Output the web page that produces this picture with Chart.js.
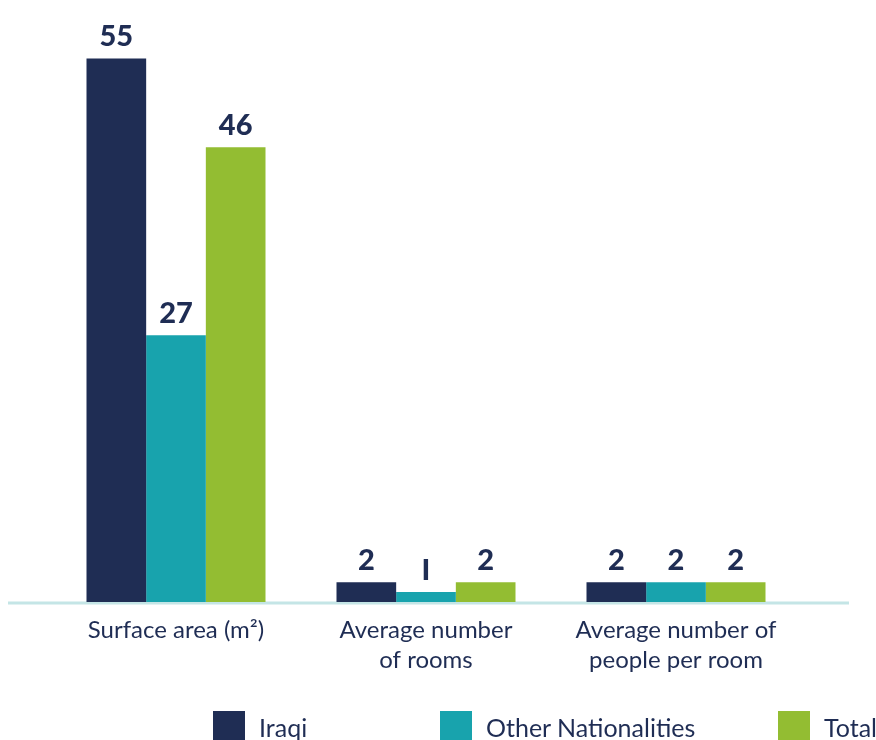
<!DOCTYPE html>
<html>
<head>
<meta charset="utf-8">
<script src="https://cdn.jsdelivr.net/npm/chart.js@4.4.1/dist/chart.umd.min.js"></script>
<style>
  html, body { margin: 0; padding: 0; background: #fff; }
  #wrap { position: relative; width: 876px; height: 740px; overflow: hidden; }
  #legend { position: absolute; left: 0; top: 711px; width: 876px; height: 32px;
            font-family: Lato, sans-serif; font-size: 25px; color: #1f2d54; }
  .item { position: absolute; top: 0; height: 32px; display: flex; align-items: center; white-space: nowrap; }
  .item span.box { display: inline-block; width: 32px; height: 32px; margin-right: 14px; }
</style>
</head>
<body>
<div id="wrap">
  <canvas id="chart" width="876" height="740"></canvas>
  <div id="legend"></div>
</div>
<script>
const categories = ['Surface area (m²)', ['Average number', 'of rooms'], ['Average number of', 'people per room']];
const seriesNames = ['Iraqi', 'Other Nationalities', 'Total'];
const iraqi = [55, 2, 2];
const otherNationalities = [27, 1, 2];
const total = [46, 2, 2];
const colors = ['#1f2d54', '#18a3ad', '#93bd32'];
const legendLeft = [213, 440, 778];

const navy = '#1f2d54';

// value labels above each bar
const valueLabels = {
    id: 'valueLabels',
    afterDatasetsDraw(chart) {
        const ctx = chart.ctx;
        ctx.save();
        ctx.font = '900 29px Lato, sans-serif';
        ctx.fillStyle = navy;
        ctx.textAlign = 'center';
        ctx.textBaseline = 'alphabetic';
        chart.data.datasets.forEach((ds, i) => {
            chart.getDatasetMeta(i).data.forEach((bar, j) => {
                const v = ds.data[j];
                ctx.fillText(v === 1 ? 'I' : String(v), bar.x, bar.y - 12);
            });
        });
        ctx.restore();
    }
};

// light baseline running wider than the bars
const baseLine = {
    id: 'baseLine',
    beforeDatasetsDraw(chart) {
        const ctx = chart.ctx;
        const y = chart.scales.y.getPixelForValue(0) + 1;
        ctx.save();
        ctx.strokeStyle = '#c4e5e6';
        ctx.lineWidth = 3;
        ctx.beginPath();
        ctx.moveTo(8, y);
        ctx.lineTo(849, y);
        ctx.stroke();
        ctx.restore();
    }
};

const series = [iraqi, otherNationalities, total];

new Chart(document.getElementById('chart').getContext('2d'), {
    type: 'bar',
    data: {
        labels: categories,
        datasets: series.map((d, i) => ({
            label: seriesNames[i],
            data: d,
            backgroundColor: colors[i],
            borderWidth: 0,
            barPercentage: 1,
            categoryPercentage: 0.716
        }))
    },
    options: {
        responsive: false,
        animation: false,
        layout: { padding: { left: 51, right: 75, top: 9, bottom: 0 } },
        plugins: { legend: { display: false }, tooltip: { enabled: false } },
        scales: {
            x: {
                grid: { display: false, drawTicks: false },
                border: { display: false },
                ticks: {
                    color: navy,
                    font: { family: 'Lato, sans-serif', size: 24, lineHeight: 1.25 },
                    padding: 13,
                    maxRotation: 0
                },
                afterFit(scale) { scale.height = 138; }
            },
            y: {
                display: false,
                min: 0,
                max: 60
            }
        }
    },
    plugins: [baseLine, valueLabels]
});

// legend
const legend = document.getElementById('legend');
seriesNames.forEach((name, i) => {
    const item = document.createElement('div');
    item.className = 'item';
    item.style.left = legendLeft[i] + 'px';
    item.innerHTML = '<span class="box" style="background:' + colors[i] + '"></span>' + name;
    legend.appendChild(item);
});
</script>
</body>
</html>
